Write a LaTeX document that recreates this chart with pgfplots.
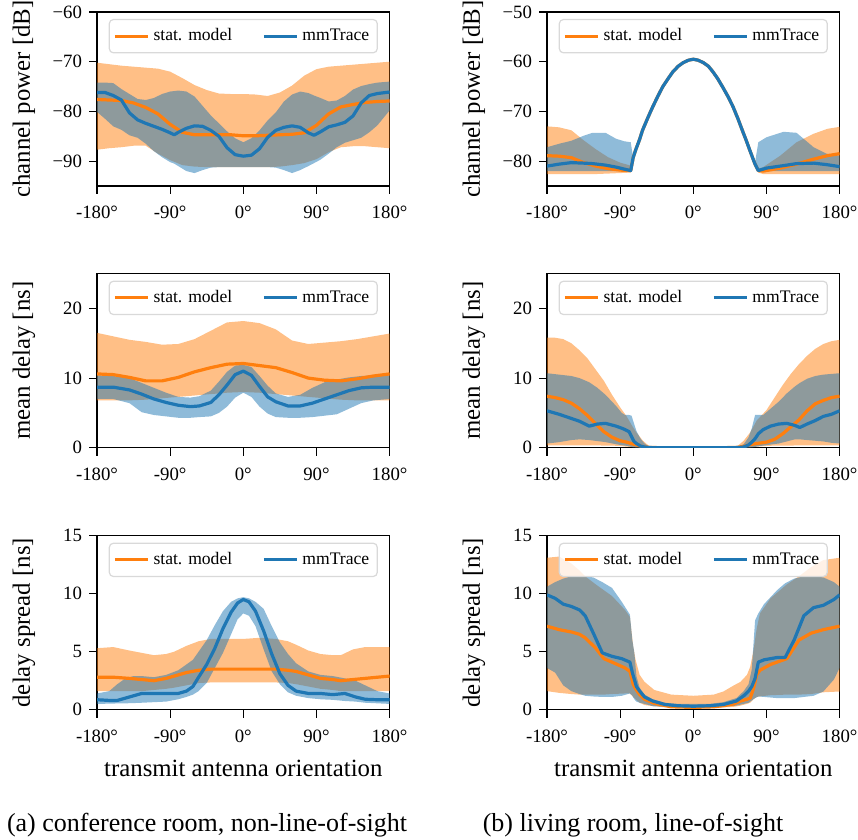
\documentclass[border=0pt]{standalone}
\usepackage{fontspec}
\setmainfont{Liberation Serif}
\usepackage{pgfplots}
\pgfplotsset{compat=1.18}
\usepackage{pgfplotstable}
\usepgfplotslibrary{fillbetween}
\definecolor{cO}{RGB}{255,127,14}
\definecolor{cB}{RGB}{31,119,180}

% ---------- panel 1: conference room, channel power ----------
\pgfplotstableread{
x m lo hi
-180 -77.6 -87.7 -70.2
-165 -77.7 -87.4 -70.5
-150 -77.8 -87.2 -70.8
-135 -78.3 -86.9 -71.0
-120 -79.2 -86.9 -71.2
-105 -80.5 -88.5 -71.4
-90 -82.6 -89.8 -72.0
-75 -84.2 -90.8 -73.3
-60 -84.7 -91.1 -74.7
-45 -84.7 -91.2 -75.7
-30 -84.7 -91.2 -76.4
-15 -84.7 -91.2 -76.5
0 -84.9 -91.2 -76.5
15 -84.9 -91.2 -76.6
30 -84.8 -91.2 -76.9
45 -84.7 -91.1 -76.2
60 -84.6 -90.8 -74.8
75 -84.3 -90.4 -72.8
90 -82.8 -89.6 -71.5
105 -80.5 -88.2 -71.0
120 -79.1 -87.2 -70.8
135 -78.6 -87.0 -70.6
150 -78.2 -87.0 -70.4
165 -78.0 -87.2 -70.2
180 -77.9 -87.4 -70.0
}\tAo
\pgfplotstableread{
x m lo hi
-180 -76.2 -80.1 -74.2
-170 -76.2 -81.5 -74.2
-160 -76.8 -83.0 -74.3
-150 -77.7 -83.7 -75.5
-140 -80.3 -84.8 -76.5
-130 -81.7 -85.3 -77.5
-120 -82.4 -86.5 -77.7
-110 -83.0 -88.0 -77.3
-100 -83.6 -89.2 -76.5
-90 -84.3 -90.2 -76.0
-85 -84.7 -90.5 -75.9
-80 -84.2 -91.0 -75.8
-70 -83.4 -92.0 -76.0
-60 -82.9 -92.4 -77.0
-50 -83.0 -91.8 -78.9
-40 -83.8 -91.3 -80.8
-30 -85.0 -91.2 -82.4
-20 -87.3 -91.2 -84.0
-10 -88.7 -91.2 -85.4
0 -89.0 -91.2 -86.2
10 -88.8 -91.2 -85.4
20 -87.5 -91.2 -83.8
30 -85.2 -91.2 -81.8
40 -83.8 -91.3 -80.2
50 -83.2 -91.8 -78.0
60 -82.9 -92.4 -76.6
70 -83.2 -91.8 -76.0
80 -84.3 -91.0 -76.3
87 -84.8 -90.4 -76.8
95 -84.1 -89.7 -77.3
105 -83.1 -88.5 -78.0
115 -82.7 -87.2 -77.8
125 -82.2 -86.3 -76.9
135 -80.9 -85.8 -75.6
145 -78.3 -85.3 -74.9
155 -76.8 -84.2 -74.5
165 -76.4 -82.8 -74.2
180 -76.1 -79.8 -74.0
}\tAb

% ---------- panel 2: living room, channel power ----------
\pgfplotstableread{
x m lo hi
-180 -78.9 -82.6 -73.0
-165 -79.0 -82.6 -73.2
-150 -79.3 -82.6 -73.8
-135 -80.3 -82.6 -75.8
-120 -81.0 -82.6 -77.6
-105 -81.5 -82.5 -79.2
-90 -81.8 -82.4 -80.3
-77 -81.9 -82.3 -80.9
-74 -79.3 -79.3 -79.3
-71 -77.8 -77.8 -77.8
-66 -75.6 -75.6 -75.6
-62.5 -73.8 -73.8 -73.8
-56 -71.3 -71.3 -71.3
-50 -69.1 -69.1 -69.1
-43.5 -66.9 -66.9 -66.9
-37.5 -65.0 -65.0 -65.0
-31 -63.4 -63.4 -63.4
-25 -62.0 -62.0 -62.0
-18.5 -60.9 -60.9 -60.9
-12.5 -60.2 -60.2 -60.2
-6 -59.7 -59.7 -59.7
0 -59.5 -59.5 -59.5
6 -59.7 -59.7 -59.7
12.5 -60.2 -60.2 -60.2
18.5 -60.9 -60.9 -60.9
24 -62.0 -62.0 -62.0
30 -63.4 -63.4 -63.4
36.5 -65.2 -65.2 -65.2
43 -67.1 -67.1 -67.1
49 -69.1 -69.1 -69.1
55 -71.5 -71.5 -71.5
61 -74.1 -74.1 -74.1
65.5 -76.0 -76.0 -76.0
69.5 -77.8 -77.8 -77.8
75.7 -80.5 -80.5 -80.5
80 -81.9 -82.3 -81.5
86 -82.0 -82.6 -81.2
107 -81.4 -82.6 -78.9
127 -80.6 -82.6 -76.2
148 -79.6 -82.6 -74.5
165 -78.9 -82.6 -73.5
180 -78.5 -82.6 -73.1
}\tBo
\pgfplotstableread{
x m lo hi
-180 -81.0 -82.0 -77.2
-165 -80.6 -82.0 -76.5
-150 -80.3 -82.0 -75.9
-135 -80.4 -82.0 -74.9
-124 -80.5 -82.0 -74.3
-108 -80.8 -82.0 -74.3
-95 -81.2 -82.0 -75.5
-85 -81.6 -82.0 -76.0
-77 -81.9 -82.0 -76.2
-74 -79.3 -79.3 -79.3
-71 -77.8 -77.8 -77.8
-66 -75.6 -75.6 -75.6
-62.5 -73.8 -73.8 -73.8
-56 -71.3 -71.3 -71.3
-50 -69.1 -69.1 -69.1
-43.5 -66.9 -66.9 -66.9
-37.5 -65.0 -65.0 -65.0
-31 -63.4 -63.4 -63.4
-25 -62.0 -62.0 -62.0
-18.5 -60.9 -60.9 -60.9
-12.5 -60.2 -60.2 -60.2
-6 -59.7 -59.7 -59.7
0 -59.5 -59.5 -59.5
6 -59.7 -59.7 -59.7
12.5 -60.2 -60.2 -60.2
18.5 -60.9 -60.9 -60.9
24 -62.0 -62.0 -62.0
30 -63.4 -63.4 -63.4
36.5 -65.2 -65.2 -65.2
43 -67.1 -67.1 -67.1
49 -69.1 -69.1 -69.1
55 -71.5 -71.5 -71.5
61 -74.1 -74.1 -74.1
65.5 -76.0 -76.0 -76.0
69.5 -77.8 -77.8 -77.8
75.7 -80.5 -80.5 -80.5
80 -81.9 -82.0 -76.2
90 -81.4 -82.0 -75.2
111 -80.9 -82.0 -74.1
127 -80.5 -82.0 -74.3
148 -80.4 -82.0 -77.2
164 -80.7 -82.0 -78.5
180 -81.1 -82.0 -78.9
}\tBb

% ---------- panel 3: conference room, mean delay ----------
\pgfplotstableread{
x m lo hi
-180 10.6 6.8 16.5
-160 10.5 6.8 16.0
-140 10.1 6.8 15.5
-120 9.6 6.9 15.2
-100 9.6 7.1 14.8
-80 10.1 7.3 14.9
-60 10.9 7.5 15.6
-40 11.5 7.7 16.8
-20 12.0 7.9 18.0
0 12.1 8.0 18.2
20 11.8 7.9 17.9
40 11.5 7.7 17.0
60 10.8 7.5 15.4
80 10.0 7.3 14.9
100 9.7 7.1 15.1
120 9.6 6.9 15.3
140 9.9 6.8 15.6
160 10.3 6.8 16.0
180 10.6 6.8 16.4
}\tCo
\pgfplotstableread{
x m lo hi
-180 8.7 7.0 10.4
-160 8.7 7.0 10.3
-140 8.3 6.4 10.0
-125 7.7 5.1 9.3
-110 7.0 4.7 8.6
-95 6.5 4.5 7.9
-80 6.1 4.3 7.3
-65 5.9 4.3 7.2
-54 6.0 4.4 7.4
-40 6.5 4.5 8.2
-30 7.6 5.0 9.5
-20 9.0 5.9 10.9
-10 10.5 7.2 11.8
0 11.0 7.9 11.9
10 10.4 7.3 11.6
20 8.8 5.9 10.3
30 7.3 4.9 8.9
40 6.6 4.4 7.8
55 6.0 4.3 7.3
70 6.0 4.3 7.6
85 6.4 4.4 8.6
100 7.0 4.6 9.4
115 7.6 4.8 9.8
130 8.2 5.6 10.1
145 8.6 6.4 10.3
160 8.7 6.8 10.4
180 8.7 7.0 10.4
}\tCb

% ---------- panel 4: living room, mean delay ----------
\pgfplotstableread{
x m lo hi
-180 7.4 0.35 15.8
-170 7.2 0.35 15.8
-160 6.9 0.35 15.6
-150 6.4 0.35 15.0
-140 5.6 0.35 14.0
-130 4.6 0.35 12.8
-120 3.4 0.35 11.2
-110 2.3 0.3 9.6
-100 1.5 0.3 7.6
-90 1.0 0.25 5.8
-82 0.8 0.15 4.5
-75 0.55 0.1 3.1
-70 0.4 0.05 2.2
-62 0.15 0.02 1.0
-55 0.05 0.01 0.3
-50 0.02 0.01 0.08
-40 0.01 0.0 0.03
40 0.01 0.0 0.03
55 0.05 0.01 0.3
62 0.2 0.02 1.0
70 0.45 0.05 2.2
78 0.6 0.15 3.9
90 0.8 0.25 5.4
100 1.2 0.3 7.2
110 2.0 0.3 9.0
120 3.0 0.3 10.6
130 4.0 0.35 12.0
140 5.3 0.35 13.2
150 6.3 0.35 14.2
160 6.8 0.35 14.9
170 7.2 0.35 15.3
180 7.4 0.35 15.5
}\tDo
\pgfplotstableread{
x m lo hi
-180 5.3 0.6 10.7
-165 4.8 0.8 10.5
-150 4.2 1.1 10.3
-140 3.8 1.2 10.0
-128 3.1 1.1 9.4
-118 3.4 0.95 8.6
-108 3.5 0.8 7.6
-95 3.1 0.5 6.0
-88 2.8 0.35 5.0
-84 2.6 0.3 4.7
-79 2.3 0.2 4.7
-76 1.6 0.1 4.6
-73 0.9 0.05 3.5
-70 0.6 0.02 2.4
-65 0.25 0.01 1.3
-60 0.1 0.01 0.6
-55 0.03 0.0 0.2
-50 0.01 0.0 0.03
50 0.01 0.0 0.03
55 0.02 0.0 0.1
62 0.1 0.01 0.5
68 0.4 0.02 1.5
72 0.8 0.05 2.8
76 1.3 0.1 4.7
80 2.0 0.2 4.7
86 2.6 0.3 4.7
95 3.1 0.45 5.6
105 3.4 0.6 6.6
115 3.5 0.9 7.8
125 3.2 1.2 8.8
131 2.9 1.2 9.3
140 3.4 1.1 9.9
150 3.9 1.0 10.3
160 4.5 0.9 10.5
170 4.8 0.7 10.6
180 5.3 0.6 10.7
}\tDb

% ---------- panel 5: conference room, delay spread ----------
\pgfplotstableread{
x m lo hi
-180 2.8 1.6 5.3
-160 2.8 1.6 5.4
-140 2.7 1.6 5.1
-125 2.6 1.6 4.9
-110 2.5 1.7 4.7
-95 2.7 1.8 4.8
-85 2.9 1.9 5.0
-70 3.2 2.1 5.5
-55 3.4 2.3 5.9
-40 3.5 2.35 6.1
-20 3.5 2.35 6.1
0 3.5 2.35 6.1
20 3.5 2.35 6.2
40 3.5 2.35 6.1
55 3.4 2.3 5.9
65 3.3 2.2 5.6
80 3.0 2.0 5.1
95 2.7 1.8 4.8
110 2.6 1.7 4.7
120 2.5 1.6 4.7
135 2.6 1.6 5.2
150 2.7 1.6 5.4
165 2.8 1.6 5.4
180 2.9 1.6 5.4
}\tEo
\pgfplotstableread{
x m lo hi
-180 0.86 0.5 1.4
-165 0.8 0.52 1.6
-155 0.8 0.54 2.2
-145 1.0 0.55 2.7
-135 1.2 0.57 2.9
-125 1.4 0.6 2.9
-110 1.4 0.65 2.8
-95 1.4 0.7 3.0
-80 1.4 0.9 3.4
-70 1.6 1.1 3.9
-62 2.0 1.3 4.3
-55 2.8 1.6 5.0
-45 3.9 2.3 6.0
-35 5.3 3.6 7.3
-25 7.0 4.9 8.5
-15 8.4 6.5 9.3
-7 9.2 7.8 9.6
0 9.5 8.3 9.7
7 9.3 8.1 9.6
15 8.5 7.2 9.3
25 6.8 5.2 8.7
35 4.8 3.3 7.2
45 3.1 2.2 5.8
55 2.1 1.5 4.8
65 1.6 1.2 4.0
80 1.4 1.0 3.3
95 1.4 0.9 3.0
110 1.3 0.85 2.9
125 1.4 0.75 2.7
138 1.1 0.7 2.5
150 0.9 0.6 2.1
165 0.86 0.55 1.6
180 0.86 0.5 1.4
}\tEb

% ---------- panel 6: living room, delay spread ----------
\pgfplotstableread{
x m lo hi
-180 7.2 1.6 13.1
-165 6.9 1.45 13.2
-150 6.7 1.35 12.6
-140 6.5 1.3 12.0
-133 6.2 1.3 11.5
-120 5.3 1.3 10.8
-110 4.4 1.3 10.3
-100 4.1 1.35 9.8
-84 3.6 1.4 8.6
-78 3.3 1.4 8.0
-74 2.2 1.1 5.5
-71 1.8 0.9 4.3
-66 1.3 0.6 3.0
-60 0.9 0.4 2.4
-48 0.55 0.3 1.7
-27 0.25 0.15 1.3
0 0.2 0.15 1.2
25 0.25 0.15 1.3
37 0.35 0.2 1.57
50 0.5 0.25 2.1
58 0.75 0.35 2.4
66 0.9 0.5 3.0
70 1.0 0.6 3.7
74 1.8 0.9 5.1
78 3.0 1.1 7.0
82 3.4 1.15 8.3
95 3.9 1.25 9.6
115 4.4 1.3 10.8
130 6.0 1.3 11.5
145 6.6 1.35 12.3
160 6.9 1.5 12.9
180 7.2 1.57 13.1
}\tFo
\pgfplotstableread{
x m lo hi
-180 9.9 3.6 10.6
-170 9.6 3.2 11.0
-160 9.1 2.1 11.3
-150 8.9 1.6 11.5
-140 8.6 1.35 11.5
-133 8.1 1.2 11.5
-123 6.6 1.14 11.4
-112 4.9 1.1 11.0
-100 4.6 1.1 10.5
-88 4.4 1.2 9.3
-78 4.1 1.4 8.2
-75 3.2 1.2 6.0
-72.5 2.6 0.9 4.9
-70 2.0 0.7 2.9
-66 1.6 0.6 1.9
-60 1.1 0.5 1.3
-50 0.75 0.3 0.9
-35 0.45 0.25 0.6
-19 0.34 0.2 0.5
0 0.3 0.2 0.5
20 0.34 0.2 0.5
37 0.45 0.25 0.65
53 0.75 0.35 1.0
62 1.2 0.5 1.6
68 1.6 0.6 2.2
72 2.0 0.8 3.5
76 2.7 1.0 7.7
80 4.1 1.14 8.3
87 4.3 1.1 9.1
95 4.4 1.05 9.7
103 4.5 1.0 10.3
113 4.5 1.0 10.9
124 6.0 1.0 11.3
136 8.1 1.1 11.5
148 8.8 1.2 11.5
160 9.0 1.57 11.4
173 9.5 2.6 11.0
180 9.9 3.6 10.6
}\tFb

\pgfplotsset{
  panel/.style={
    scale only axis, width=146.3pt, height=87pt,
    xmin=-180, xmax=180,
    xtick={-180,-90,0,90,180},
    xticklabels={-180\textdegree,-90\textdegree,0\textdegree,90\textdegree,180\textdegree},
    tick align=outside, xtick pos=bottom, ytick pos=left,
    major tick length=4pt,
    every tick/.style={black, line width=0.6pt},
    axis line style={line width=0.6pt},
    tick label style={font=\fontsize{9.4}{11}\selectfont},
    xticklabel style={yshift=-2.5pt},
    every axis y label/.style={at={(axis description cs:-0.25,0.5)}, rotate=90, anchor=center,
      font=\fontsize{12.4}{14}\selectfont},
    every axis x label/.style={at={(axis description cs:0.5,-0.335)}, anchor=center,
      font=\fontsize{12.4}{14}\selectfont},
    legend style={at={(0.5,0.96)}, anchor=north, legend columns=2,
      draw=black!15, line width=0.6pt, rounded corners=2pt,
      fill=white, fill opacity=0.8, text opacity=1,
      font=\fontsize{8.8}{10}\selectfont, inner xsep=2pt, inner ysep=2.5pt,
      /tikz/every even column/.append style={column sep=13pt}},
    legend cell align=left,
    legend image code/.code={\draw[#1, line width=1.6pt] (0pt,0pt) -- (16.5pt,0pt);},
  },
}
\newcommand{\band}[3]{%
  \addplot[draw=none, forget plot, name path=#3hi] table[x=x,y=hi]{#1};
  \addplot[draw=none, forget plot, name path=#3lo] table[x=x,y=lo]{#1};
  \addplot[fill=#2, fill opacity=0.5, draw=none, forget plot] fill between[of=#3hi and #3lo];
}
\newcommand{\lines}[2]{%
  \addplot[cO, line width=1.6pt, line join=round] table[x=x,y=m]{#1};
  \addlegendentry{stat. model}
  \addplot[cB, line width=1.6pt, line join=round] table[x=x,y=m]{#2};
  \addlegendentry{mmTrace}
}

\begin{document}
\begin{tikzpicture}

% row 1
\begin{axis}[panel, at={(48.5pt,-6pt)}, anchor=north west,
  ymin=-95, ymax=-60, ytick={-90,-80,-70,-60},
  yticklabels={\textminus90,\textminus80,\textminus70,\textminus60},
  ylabel={channel power [dB]}]
\band{\tAo}{cO}{ao}
\band{\tAb}{cB}{ab}
\lines{\tAo}{\tAb}
\end{axis}
\begin{axis}[panel, at={(273.5pt,-6pt)}, anchor=north west,
  ymin=-85, ymax=-50, ytick={-80,-70,-60,-50},
  yticklabels={\textminus80,\textminus70,\textminus60,\textminus50},
  ylabel={channel power [dB]}]
\band{\tBo}{cO}{bo}
\band{\tBb}{cB}{bb}
\lines{\tBo}{\tBb}
\end{axis}

% row 2
\begin{axis}[panel, at={(48.5pt,-136.85pt)}, anchor=north west,
  ymin=0, ymax=25, ytick={0,10,20}, yticklabels={0,10,20},
  ylabel={mean delay [ns]}]
\band{\tCo}{cO}{co}
\band{\tCb}{cB}{cb}
\lines{\tCo}{\tCb}
\end{axis}
\begin{axis}[panel, at={(273.5pt,-136.85pt)}, anchor=north west,
  ymin=0, ymax=25, ytick={0,10,20}, yticklabels={0,10,20},
  ylabel={mean delay [ns]}]
\band{\tDo}{cO}{do}
\band{\tDb}{cB}{db}
\lines{\tDo}{\tDb}
\end{axis}

% row 3
\begin{axis}[panel, at={(48.5pt,-267.85pt)}, anchor=north west,
  ymin=0, ymax=15, ytick={0,5,10,15}, yticklabels={0,5,10,15},
  ylabel={delay spread [ns]}, xlabel={transmit antenna orientation}]
\band{\tEo}{cO}{eo}
\band{\tEb}{cB}{eb}
\lines{\tEo}{\tEb}
\end{axis}
\begin{axis}[panel, at={(273.5pt,-267.85pt)}, anchor=north west,
  ymin=0, ymax=15, ytick={0,5,10,15}, yticklabels={0,5,10,15},
  ylabel={delay spread [ns]}, xlabel={transmit antenna orientation}]
\band{\tFo}{cO}{fo}
\band{\tFb}{cB}{fb}
\lines{\tFo}{\tFb}
\end{axis}

\node[font=\fontsize{13}{15}\selectfont] at (103.5pt,-412.5pt) {(a) conference room, non-line-of-sight};
\node[font=\fontsize{13}{15}\selectfont] at (316.5pt,-412.5pt) {(b) living room, line-of-sight};
\pgfresetboundingbox
\useasboundingbox (0,0) rectangle (429pt,-420pt);
\end{tikzpicture}
\end{document}
